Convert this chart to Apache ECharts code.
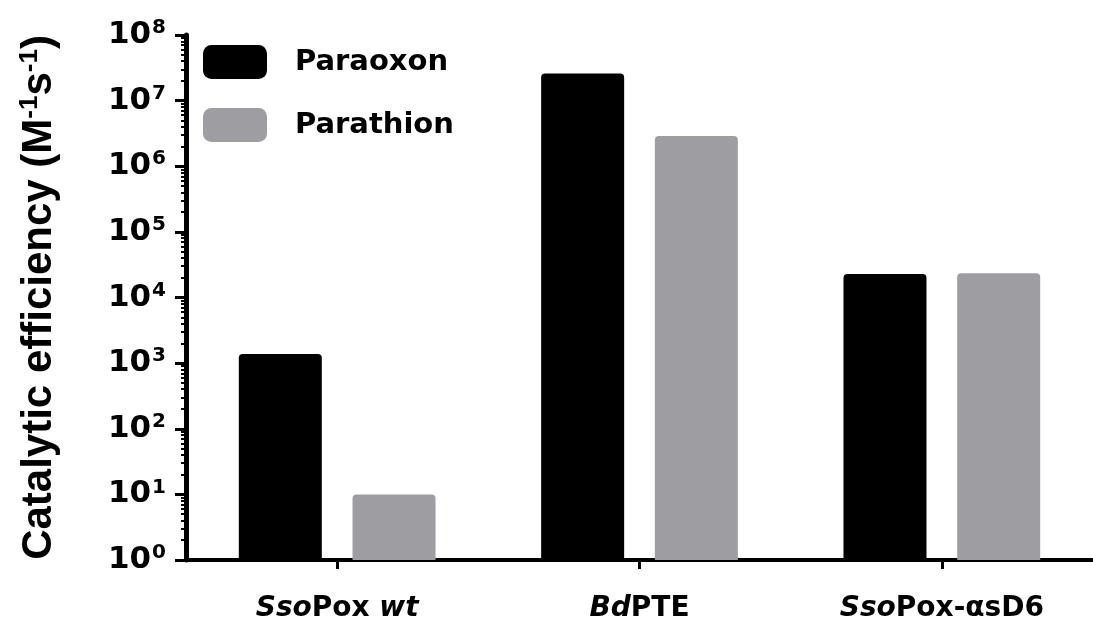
<!DOCTYPE html>
<html>
<head>
<meta charset="utf-8">
<script src="https://cdn.jsdelivr.net/npm/echarts@6/dist/echarts.min.js"></script>
<style>
html,body{margin:0;padding:0;background:#fff;}
#c{width:1093px;height:626px;}
</style>
</head>
<body>
<div id="c"></div>
<script>
const categories = ['SsoPox wt', 'BdPTE', 'SsoPox-αsD6'];
const paraoxon = [1380, 26000000, 22800];
const parathion = [10, 2900000, 23500];
const seriesNames = ['Paraoxon', 'Parathion'];
const yAxisTitle = 'Catalytic efficiency (M-1s-1)';
const italicWords = ['Sso', 'Bd', 'wt'];

const chart = echarts.init(document.getElementById('c'), null, {renderer: 'canvas'});
const labelFont = 'DejaVu Sans';
const tickFont = 'DejaVu Sans';
const titleFont = 'Liberation Sans';

function catLabel(v) {
  const re = new RegExp('(' + italicWords.join('|') + ')');
  return v.split(re).filter(s => s.length).map(s =>
    italicWords.indexOf(s) >= 0 ? '{i|' + s + '}' : '{n|' + s + '}'
  ).join('');
}
function titleRich(t) {
  return t.replace(/\(M-1s-1\)/, '{n|(M}{s|-1}{n|s}{s|-1}{n|)}').replace(/^([^{]+)/, '{n|$1}');
}

chart.setOption({
  backgroundColor: '#ffffff',
  animation: false,
  grid: {left: 186, right: -2, top: 35, bottom: 66, containLabel: false},
  legend: {
    orient: 'vertical', left: 198, top: 40,
    itemWidth: 64, itemHeight: 34, itemGap: 29,
    icon: 'roundRect',
    data: seriesNames,
    textStyle: {fontFamily: labelFont, fontWeight: 'bold', fontSize: 29, color: '#000', padding: [0, 0, 0, 23]}
  },
  xAxis: {
    type: 'category',
    data: categories,
    axisLine: {show: true, lineStyle: {color: '#000', width: 4}},
    axisTick: {show: true, alignWithLabel: true, length: 9, lineStyle: {color: '#000', width: 3}},
    axisLabel: {
      margin: 35,
      formatter: catLabel,
      rich: {
        i: {fontFamily: labelFont, fontWeight: 'bold', fontStyle: 'italic', fontSize: 28, color: '#000'},
        n: {fontFamily: labelFont, fontWeight: 'bold', fontSize: 28, color: '#000'}
      }
    },
    splitLine: {show: false}
  },
  yAxis: {
    type: 'log',
    logBase: 10,
    min: 1,
    max: 100000000,
    splitNumber: 8,
    axisLine: {show: true, lineStyle: {color: '#000', width: 5}},
    axisTick: {show: true, length: 11, lineStyle: {color: '#000', width: 3}},
    minorTick: {show: true, splitNumber: 9, length: 5, lineStyle: {color: '#000', width: 2}},
    splitLine: {show: false},
    minorSplitLine: {show: false},
    axisLabel: {
      margin: 20,
      formatter: function (v) { return '{b|10}{s|' + Math.round(Math.log10(v)) + '}'; },
      rich: {
        b: {fontFamily: tickFont, fontWeight: 'bold', fontSize: 31, color: '#000'},
        s: {fontFamily: tickFont, fontWeight: 'bold', fontSize: 20, color: '#000', verticalAlign: 'top', padding: [0, 0, 14, 1]}
      }
    },
    name: titleRich(yAxisTitle),
    nameLocation: 'middle',
    nameRotate: 90,
    nameGap: 125,
    nameTextStyle: {
      rich: {
        n: {fontFamily: titleFont, fontWeight: 'bold', fontSize: 42, color: '#000'},
        s: {fontFamily: titleFont, fontWeight: 'bold', fontSize: 26, color: '#000', padding: [0, 0, 18, 0]}
      }
    }
  },
  series: [
    {name: seriesNames[0], type: 'bar', data: paraoxon, barWidth: 83, barGap: '37%',
     itemStyle: {color: '#000000', borderRadius: [4, 4, 0, 0]}},
    {name: seriesNames[1], type: 'bar', data: parathion, barWidth: 83,
     itemStyle: {color: '#9e9da2', borderRadius: [4, 4, 0, 0]}}
  ]
});
</script>
</body>
</html>
